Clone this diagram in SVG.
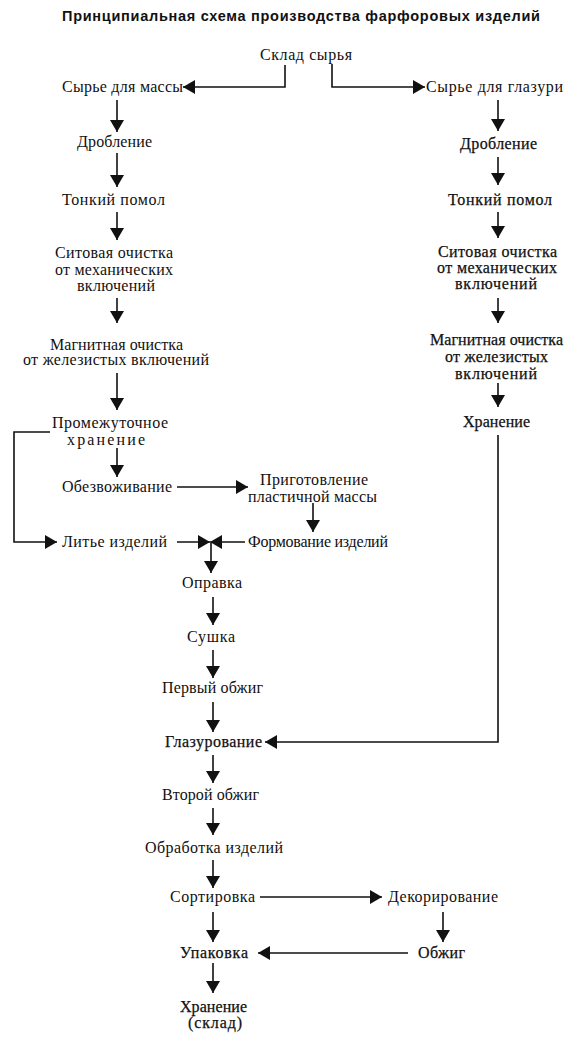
<svg xmlns="http://www.w3.org/2000/svg" width="578" height="1039" viewBox="0 0 578 1039">
<style>
text{font-family:"Liberation Serif","Times New Roman",serif;font-size:16px;fill:#111}
.hv{stroke:#111;stroke-width:0.25px}
.title{font-family:"Liberation Sans",Arial,sans-serif;font-size:14.5px;font-weight:bold}
.c path{fill:none;stroke:#111;stroke-width:1.6px;marker-end:url(#ah)}
</style>
<defs>
<marker id="ah" markerUnits="userSpaceOnUse" markerWidth="12" markerHeight="14" refX="12" refY="7" orient="auto" viewBox="0 0 12 14">
<path d="M0,0 L12,7 L0,14 Z" fill="#111"/>
</marker>
</defs>
<rect width="578" height="1039" fill="#fff"/>
<text class="title" x="62" y="21" textLength="478">Принципиальная схема производства фарфоровых изделий</text>

<g class="c" id="connectors">
<path d="M285,65 V87 H183"/>
<path d="M332,64 V87 H425"/>
<path d="M117,100 V132"/>
<path d="M117,153 V187"/>
<path d="M117,212 V240"/>
<path d="M117,298 V323"/>
<path d="M117,373 V410"/>
<path d="M117,448 V477"/>
<path d="M50,432 H14 V542 H57"/>
<path d="M177,487 H248"/>
<path d="M313,503 V532"/>
<path d="M177,542 H210"/>
<path d="M245,542 H210"/>
<path d="M211,543 V573"/>
<path d="M213,597 V625"/>
<path d="M213,650 V678"/>
<path d="M213,702 V732"/>
<path d="M498,100 V131"/>
<path d="M498,157 V185"/>
<path d="M498,212 V238"/>
<path d="M498,298 V323"/>
<path d="M498,383 V407"/>
<path d="M498,435 V742 H265"/>
<path d="M213,755 V783"/>
<path d="M213,808 V835"/>
<path d="M213,860 V888"/>
<path d="M260,897 H382"/>
<path d="M443,912 V942"/>
<path d="M408,953 H258"/>
<path d="M213,912 V942"/>
<path d="M213,963 V993"/>
</g>

<g id="sklad"><text x="260" y="60" textLength="92">Склад сырья</text></g>
<g id="massa"><text x="62" y="92" textLength="121">Сырье для массы</text></g>
<g id="glazur"><text x="426" y="92" textLength="137">Сырье для глазури</text></g>

<g id="l-drob"><text x="77" y="147" textLength="75">Дробление</text></g>
<g id="l-pomol"><text x="62" y="205" textLength="103">Тонкий помол</text></g>
<g id="l-sito"><text x="55" y="258" textLength="118">Ситовая очистка</text><text x="55" y="275" textLength="118">от механических</text><text x="77" y="291" textLength="78">включений</text></g>
<g id="l-magn"><text x="50" y="350" textLength="133">Магнитная очистка</text><text x="23" y="365" textLength="186">от железистых включений</text></g>
<g id="prom"><text x="52" y="428" textLength="116">Промежуточное</text><text x="67" y="445" textLength="78">хранение</text></g>
<g id="obezv"><text x="62" y="492" textLength="110">Обезвоживание</text></g>
<g id="prigot"><text x="260" y="485" textLength="108">Приготовление</text><text x="248" y="502" textLength="129">пластичной массы</text></g>
<g id="litie"><text x="62" y="547" textLength="105">Литье изделий</text></g>
<g id="formov"><text x="248" y="547" textLength="140">Формование изделий</text></g>
<g id="oprav"><text x="182" y="588" textLength="60">Оправка</text></g>
<g id="sushka"><text x="187" y="642" textLength="48">Сушка</text></g>
<g id="obzhig1"><text x="162" y="693" textLength="101">Первый обжиг</text></g>
<g id="glazurov"><text class="hv" x="165" y="747" textLength="97">Глазурование</text></g>
<g id="obzhig2"><text x="162" y="800" textLength="97">Второй обжиг</text></g>
<g id="obrab"><text x="145" y="853" textLength="138">Обработка изделий</text></g>
<g id="sort"><text x="170" y="902" textLength="85">Сортировка</text></g>
<g id="dekor"><text x="388" y="902" textLength="110">Декорирование</text></g>
<g id="upak"><text class="hv" x="180" y="958" textLength="68">Упаковка</text></g>
<g id="obzhig3"><text class="hv" x="418" y="958" textLength="47">Обжиг</text></g>
<g id="hran-sklad"><text class="hv" x="180" y="1012" textLength="67">Хранение</text><text class="hv" x="188" y="1028" textLength="54">(склад)</text></g>

<g id="r-drob"><text class="hv" x="460" y="149" textLength="77">Дробление</text></g>
<g id="r-pomol"><text class="hv" x="448" y="205" textLength="104">Тонкий помол</text></g>
<g id="r-sito"><text class="hv" x="438" y="257" textLength="119">Ситовая очистка</text><text class="hv" x="437" y="273" textLength="120">от механических</text><text class="hv" x="455" y="289" textLength="82">включений</text></g>
<g id="r-magn"><text class="hv" x="430" y="345" textLength="133">Магнитная очистка</text><text class="hv" x="445" y="362" textLength="103">от железистых</text><text class="hv" x="455" y="379" textLength="82">включений</text></g>
<g id="r-hran"><text class="hv" x="463" y="427" textLength="67">Хранение</text></g>
</svg>
